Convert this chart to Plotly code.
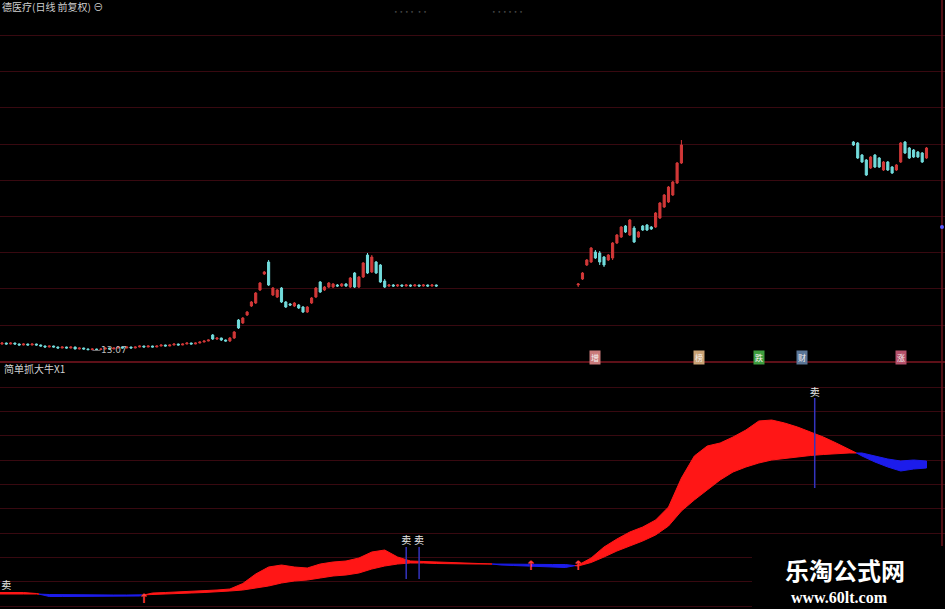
import plotly.graph_objects as go

W, H = 945, 609

# ---------------- price data (daily candles, None = no candle shown) ----------------
open_seg1 = [13.67, 13.77, 13.67, 13.77, 13.67, 13.57, 13.67, 13.57, 13.67, 13.57,
             13.47, 13.37, 13.47, 13.37, 13.27, 13.37, 13.27, 13.37, 13.17, 13.27,
             13.17, 13.10, 13.17, 13.12, 13.17, 13.27, 13.17, 13.27, 13.37, 13.27,
             13.37, 13.27, 13.37, 13.47, 13.37, 13.47, 13.37, 13.47, 13.57, 13.47,
             13.57, 13.67, 13.57, 13.67, 13.77, 13.67, 13.77, 13.87, 13.97, 14.57,
             14.17, 14.27, 14.07, 13.97, 14.27, 16.07, 15.77, 16.57, 17.47, 17.77,
             19.07, 20.67, 21.87, 18.57, 18.37, 19.27, 17.87, 17.67, 17.47, 17.57,
             17.37, 16.87, 17.77, 18.37, 19.87, 19.07, 19.37, 19.37, 19.57, 19.47,
             19.67, 19.37, 20.77, 19.37, 20.37, 22.57, 20.87, 21.87, 21.57, 19.97,
             19.47, 19.57, 19.47, 19.57, 19.47, 19.57, 19.47, 19.57, 19.47, 19.57,
             19.47, 19.57]
high_seg1 = [13.85, 13.82, 13.84, 13.80, 13.72, 13.74, 13.70, 13.72, 13.70, 13.62,
             13.52, 13.52, 13.50, 13.42, 13.42, 13.40, 13.42, 13.40, 13.32, 13.30,
             13.22, 13.24, 13.20, 13.22, 13.32, 13.30, 13.32, 13.42, 13.40, 13.42,
             13.40, 13.42, 13.52, 13.50, 13.52, 13.50, 13.52, 13.62, 13.60, 13.62,
             13.72, 13.70, 13.72, 13.82, 13.80, 13.82, 13.92, 14.02, 14.12, 14.67,
             14.32, 14.30, 14.12, 14.37, 14.97, 16.17, 16.37, 16.97, 17.97, 18.87,
             19.87, 20.97, 22.07, 19.37, 19.17, 19.37, 17.97, 17.77, 17.87, 17.67,
             17.47, 17.47, 18.37, 19.37, 19.97, 19.47, 19.87, 19.77, 19.67, 19.77,
             19.77, 20.37, 20.87, 20.47, 21.87, 22.77, 22.57, 21.97, 21.67, 20.17,
             19.67, 19.67, 19.67, 19.62, 19.67, 19.62, 19.67, 19.60, 19.67, 19.62,
             19.67, 19.62]
low_seg1 = [13.60, 13.62, 13.63, 13.60, 13.52, 13.54, 13.52, 13.54, 13.50, 13.42,
            13.32, 13.33, 13.32, 13.22, 13.24, 13.22, 13.23, 13.14, 13.13, 13.12,
            13.07, 13.09, 13.09, 13.10, 13.14, 13.13, 13.15, 13.24, 13.22, 13.25,
            13.23, 13.24, 13.34, 13.33, 13.35, 13.34, 13.35, 13.44, 13.43, 13.45,
            13.54, 13.53, 13.55, 13.64, 13.63, 13.65, 13.74, 13.84, 13.94, 14.07,
            14.07, 13.97, 13.92, 13.87, 14.17, 15.17, 15.67, 16.47, 17.37, 17.67,
            18.97, 20.57, 19.47, 18.47, 18.27, 17.77, 17.27, 17.47, 17.37, 17.17,
            16.77, 16.77, 17.67, 18.27, 18.77, 18.97, 19.27, 19.27, 19.37, 19.37,
            19.37, 19.27, 19.27, 19.27, 20.27, 20.67, 20.77, 20.67, 19.77, 19.27,
            19.37, 19.37, 19.37, 19.37, 19.40, 19.37, 19.42, 19.37, 19.40, 19.37,
            19.40, 19.37]
close_seg1 = [13.77, 13.67, 13.77, 13.67, 13.57, 13.67, 13.57, 13.67, 13.57, 13.47,
              13.37, 13.47, 13.37, 13.27, 13.37, 13.27, 13.37, 13.17, 13.27, 13.17,
              13.10, 13.17, 13.12, 13.17, 13.27, 13.17, 13.27, 13.37, 13.27, 13.37,
              13.27, 13.37, 13.47, 13.37, 13.47, 13.37, 13.47, 13.57, 13.47, 13.57,
              13.67, 13.57, 13.67, 13.77, 13.67, 13.77, 13.87, 13.97, 14.07, 14.17,
              14.27, 14.07, 13.97, 14.27, 14.87, 15.27, 16.27, 16.87, 17.87, 18.77,
              19.77, 20.87, 19.57, 19.27, 19.07, 17.87, 17.37, 17.57, 17.77, 17.27,
              16.87, 17.37, 18.27, 19.27, 18.87, 19.37, 19.77, 19.67, 19.47, 19.67,
              19.47, 20.27, 19.37, 20.37, 21.77, 20.77, 22.37, 20.77, 19.87, 19.37,
              19.57, 19.47, 19.57, 19.47, 19.57, 19.47, 19.57, 19.47, 19.57, 19.47,
              19.57, 19.47]

open_seg2 = [19.57, 20.17, 21.57, 21.87, 22.87, 22.77, 22.37, 22.07, 22.27, 23.77,
             24.37, 25.47, 24.57, 25.27, 24.37, 25.47, 25.57, 25.37, 25.37, 26.27,
             27.37, 27.87, 28.57, 29.77, 31.77]
high_seg2 = [19.77, 20.87, 22.17, 23.37, 23.07, 22.97, 22.47, 22.67, 23.87, 24.67,
             25.47, 25.57, 26.17, 25.47, 24.97, 25.57, 25.67, 25.47, 26.87, 27.87,
             28.67, 29.47, 29.97, 31.87, 34.07]
low_seg2 = [19.37, 20.07, 21.47, 21.77, 22.17, 21.57, 21.37, 21.97, 22.07, 23.67,
            24.27, 24.77, 24.47, 23.77, 24.27, 24.97, 24.97, 25.07, 25.27, 26.17,
            27.27, 27.77, 28.47, 29.67, 31.67]
close_seg2 = [19.67, 20.77, 22.07, 23.27, 22.27, 21.87, 21.57, 22.57, 23.77, 24.57,
              25.37, 24.87, 26.07, 23.87, 24.87, 25.07, 25.07, 25.17, 26.77, 27.77,
              28.57, 29.37, 29.87, 31.77, 33.57]

open_seg3 = [33.87, 33.77, 32.57, 32.07, 31.27, 32.57, 32.27, 31.07, 31.87, 31.37,
             31.07, 31.87, 33.87, 33.27, 33.07, 32.87, 32.77, 32.27]
high_seg3 = [33.97, 33.87, 32.67, 32.17, 32.47, 32.67, 32.37, 31.97, 31.97, 31.47,
             31.67, 33.87, 33.97, 33.37, 33.17, 32.97, 32.87, 33.37]
low_seg3 = [33.47, 32.17, 31.77, 30.47, 31.17, 31.27, 31.27, 30.97, 30.97, 30.67,
            30.97, 31.77, 32.67, 32.17, 32.27, 32.27, 31.77, 32.17]
close_seg3 = [33.57, 32.27, 31.87, 30.57, 32.37, 31.37, 31.37, 31.87, 31.07, 30.77,
              31.57, 33.77, 32.77, 32.27, 32.37, 32.37, 31.87, 33.27]

gap1 = [None] * 32   # days 102-133 not shown
gap2 = [None] * 39   # days 159-197 not shown

open_ = open_seg1 + gap1 + open_seg2 + gap2 + open_seg3
high = high_seg1 + gap1 + high_seg2 + gap2 + high_seg3
low = low_seg1 + gap1 + low_seg2 + gap2 + low_seg3
close = close_seg1 + gap1 + close_seg2 + gap2 + close_seg3
days = list(range(len(close)))

# ---------------- indicator "简单抓大牛X1" ----------------
ind_days = list(range(-1, 217, 3))
ind_fast = [8.25, 8.25, 8.25, 7.75, 6.25, 6.25, 6.25, 6.25, 6.25, 6.25,
            6.25, 6.5, 8.0, 8.25, 8.5, 8.75, 9.0, 9.5, 10.0, 12.75,
            17.5, 21.0, 22.0, 21.0, 20.5, 22.5, 23.5, 24.0, 25.5, 28.5,
            29.5, 26.0, 24.0, 23.75, 23.5, 23.5, 23.25, 23.0, 22.75, 22.0,
            21.75, 21.5, 21.5, 21.25, 20.75, 22.0, 25.5, 31.0, 35.0, 38.5,
            41.0, 44.5, 51.0, 65.5, 76.5, 81.5, 83.0, 86.0, 89.5, 94.0,
            94.5, 93.0, 91.0, 88.5, 86.0, 83.0, 80.0, 76.5, 73.5, 71.0,
            69.0, 70.0, 70.5]
ind_slow = [7.5, 7.5, 7.5, 7.5, 7.25, 7.0, 7.0, 7.0, 7.0, 7.0,
            7.0, 7.0, 7.25, 7.5, 7.75, 8.0, 8.25, 8.5, 9.0, 9.5,
            10.5, 11.5, 13.0, 14.0, 14.5, 15.5, 16.5, 17.0, 18.0, 20.0,
            21.5, 22.5, 23.0, 23.0, 22.75, 22.75, 22.5, 22.5, 22.5, 22.5,
            22.5, 22.25, 22.25, 22.25, 22.25, 21.5, 23.25, 26.0, 29.0, 31.5,
            34.0, 37.0, 41.5, 49.0, 54.5, 59.5, 64.5, 68.5, 71.0, 73.0,
            74.5, 75.5, 76.0, 76.75, 77.25, 77.75, 78.0, 78.0, 76.5, 75.0,
            74.0, 74.5, 74.0]

sell_days = [1, 94, 97, 189]
sell_label_level = [11.5, 34.0, 34.0, 108.0]
sell_line_days = [94, 97, 189]
sell_line_top = [31.0, 31.0, 105.5]
sell_line_bottom = [15.0, 15.0, 60.5]

buy_days = [33, 123, 134]
buy_level = [4.5, 21.0, 21.0]

low_mark_day = 20.5
low_mark_price = 13.07

event_days = [138, 162, 176, 186, 209]
event_text = ["增", "榜", "跌", "财", "涨"]
event_colors = ["#c97a7a", "#c9a274", "#3e9e3e", "#5a7596", "#b4506a"]

# ---------------- figure ----------------
RED = "rgb(255,22,22)"
BLUE = "rgb(28,28,235)"
GRID = "rgb(56,9,16)"
SPLIT = (H - 362) / H

fig = go.Figure()

fig.add_trace(go.Candlestick(
    x=days, open=open_, high=high, low=low, close=close,
    increasing=dict(line=dict(color="#d23838", width=1), fillcolor="#d23838"),
    decreasing=dict(line=dict(color="#72dcdc", width=1), fillcolor="#72dcdc"),
    whiskerwidth=0, xaxis="x", yaxis="y", hoverinfo="skip", showlegend=False,
))

# split the band into red (fast above slow) and blue (fast below slow) runs
runs = []
cur = None
for i, d in enumerate(ind_days):
    a, b = ind_fast[i], ind_slow[i]
    sgn = a >= b
    if cur is None:
        cur = dict(s=sgn, x=[d], a=[a], b=[b])
        continue
    if sgn != cur["s"]:
        pa, pb, pd = ind_fast[i - 1], ind_slow[i - 1], ind_days[i - 1]
        d0, d1 = pa - pb, a - b
        t = d0 / (d0 - d1)
        xc = pd + t * (d - pd)
        yc = pa + t * (a - pa)
        cur["x"].append(xc); cur["a"].append(yc); cur["b"].append(yc)
        runs.append(cur)
        cur = dict(s=sgn, x=[xc], a=[yc], b=[yc])
    cur["x"].append(d); cur["a"].append(a); cur["b"].append(b)
runs.append(cur)

for r in runs:
    col = RED if r["s"] else BLUE
    fig.add_trace(go.Scatter(
        x=r["x"] + r["x"][::-1], y=r["a"] + r["b"][::-1],
        mode="lines", fill="toself", fillcolor=col,
        line=dict(color=col, width=1), xaxis="x", yaxis="y2",
        hoverinfo="skip", showlegend=False,
    ))

# sell sticks
sx, sy = [], []
for d, t, b in zip(sell_line_days, sell_line_top, sell_line_bottom):
    sx += [d, d, None]
    sy += [b, t, None]
fig.add_trace(go.Scatter(x=sx, y=sy, mode="lines", line=dict(color="rgb(52,52,190)", width=1.5),
                         xaxis="x", yaxis="y2", hoverinfo="skip", showlegend=False))
fig.add_trace(go.Scatter(x=sell_days, y=sell_label_level, mode="text", text=["卖"] * len(sell_days),
                         textfont=dict(family="Noto Sans CJK SC", size=10, color="#e6e6e6"),
                         xaxis="x", yaxis="y2", hoverinfo="skip", showlegend=False, cliponaxis=False))
fig.add_trace(go.Scatter(x=buy_days, y=buy_level, mode="text", text=["<b>↑</b>"] * len(buy_days),
                         textfont=dict(family="DejaVu Sans", size=13, color="#ff3a3a"),
                         xaxis="x", yaxis="y2", hoverinfo="skip", showlegend=False, cliponaxis=False))

annotations = []
annotations.append(dict(x=low_mark_day, y=low_mark_price, xref="x", yref="y", text="—" + f"{low_mark_price:.2f}",
                        showarrow=False, xanchor="left", yanchor="middle",
                        font=dict(family="DejaVu Sans", size=9, color="#bdbdbd")))
for d, t, c in zip(event_days, event_text, event_colors):
    annotations.append(dict(x=d, y=1 - 358 / H, xref="x", yref="paper", text=t, showarrow=False,
                            bgcolor=c, borderpad=1, xanchor="center", yanchor="middle",
                            font=dict(family="Noto Sans CJK SC", size=8, color="#f4f0f0")))
annotations += [
    dict(x=0, y=1 - 7 / H, xref="paper", yref="paper", text="德医疗(日线 前复权) ⊖", showarrow=False,
         xanchor="left", yanchor="middle", font=dict(family="Noto Sans CJK SC", size=10, color="#cfcfcf")),
    dict(x=2 / W, y=1 - 368 / H, xref="paper", yref="paper", text="简单抓大牛X1", showarrow=False,
         xanchor="left", yanchor="middle", font=dict(family="Noto Sans CJK SC", size=10, color="#d2d2d2")),
    dict(x=410 / W, y=1 - 12 / H, xref="paper", yref="paper", text="• • • •  • •", showarrow=False,
         xanchor="center", yanchor="middle", font=dict(family="DejaVu Sans", size=6, color="#4a4a4a")),
    dict(x=507 / W, y=1 - 12 / H, xref="paper", yref="paper", text="• • • • • •", showarrow=False,
         xanchor="center", yanchor="middle", font=dict(family="DejaVu Sans", size=6, color="#4a4a4a")),
    dict(x=845 / W, y=1 - 569 / H, xref="paper", yref="paper", text="<b>乐淘公式网</b>", showarrow=False,
         xanchor="center", yanchor="middle", font=dict(family="Noto Sans CJK SC", size=24, color="#ffffff")),
    dict(x=839 / W, y=1 - 597 / H, xref="paper", yref="paper", text="<b>www.60lt.com</b>", showarrow=False,
         xanchor="center", yanchor="middle", font=dict(family="Liberation Serif", size=16, color="#ffffff")),
]

shapes = [
    dict(type="line", xref="paper", yref="paper", x0=0, x1=1, y0=SPLIT, y1=SPLIT,
         line=dict(color="rgb(125,22,32)", width=1.5)),
    dict(type="line", xref="paper", yref="paper", x0=942 / W, x1=942 / W, y0=0, y1=1,
         line=dict(color="rgb(110,20,30)", width=1.5)),
    dict(type="circle", xref="paper", yref="paper", x0=940 / W, x1=944 / W, y0=1 - 229 / H, y1=1 - 225 / H,
         fillcolor="rgb(90,90,255)", line=dict(width=0)),
    dict(type="rect", xref="paper", yref="paper", x0=752 / W, x1=1, y0=0, y1=1 - 546 / H,
         fillcolor="black", line=dict(width=0), layer="above"),
]

fig.update_layout(
    width=W, height=H, margin=dict(l=0, r=0, t=0, b=0),
    paper_bgcolor="black", plot_bgcolor="black", showlegend=False,
    xaxis=dict(range=[-0.465, 219.3], visible=False, showgrid=False, zeroline=False,
               rangeslider=dict(visible=False)),
    yaxis=dict(domain=[SPLIT, 1], range=[11.87, 48.07], showgrid=True, gridcolor=GRID, gridwidth=1,
               tickmode="linear", tick0=15.57, dtick=3.62, showticklabels=False, ticks="",
               zeroline=False, showline=False, fixedrange=True),
    yaxis2=dict(domain=[0, SPLIT], range=[0, 123.5], anchor="x", showgrid=True, gridcolor=GRID, gridwidth=1,
                tickmode="linear", tick0=1.5, dtick=12.15, showticklabels=False, ticks="",
                zeroline=False, showline=False, fixedrange=True),
    annotations=annotations, shapes=shapes,
)

fig.write_html(
    "out.html",
    config={"displayModeBar": False, "staticPlot": True},
    post_script="document.body.style.margin='0px';document.body.style.background='black';",
)
